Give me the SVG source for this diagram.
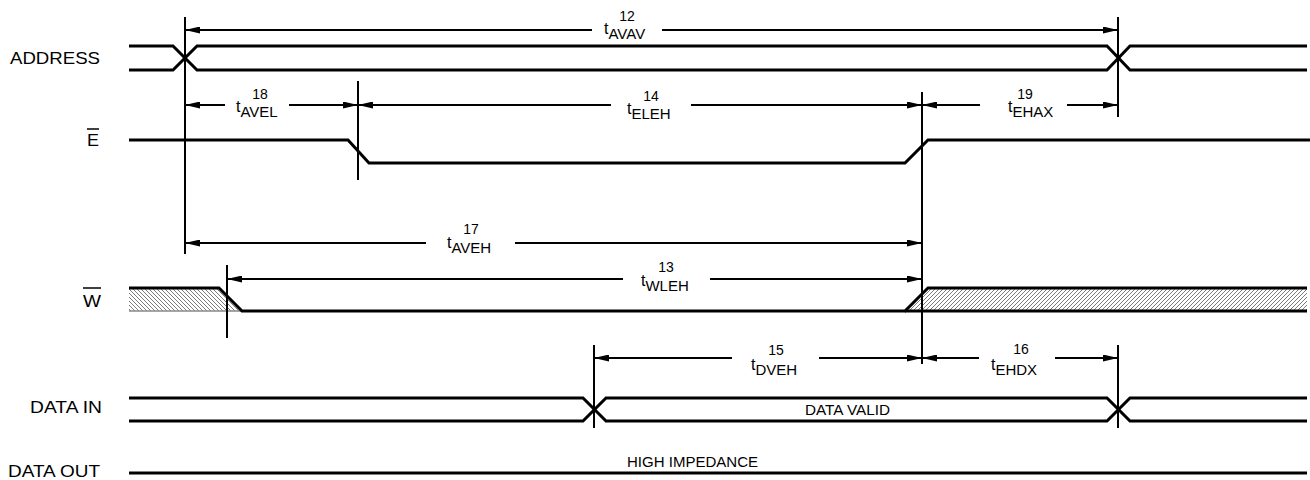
<svg xmlns="http://www.w3.org/2000/svg" width="1310" height="480" viewBox="0 0 1310 480">
<style>
.sig{fill:none;stroke:#000;stroke-width:3;stroke-linejoin:miter}
.ref{stroke:#000;stroke-width:2}
.arr{stroke:#000;stroke-width:2;marker-end:url(#ah)}
.lbl{font-family:"Liberation Sans",Arial,sans-serif;font-size:16.5px;fill:#000}
.t{font-family:"Liberation Sans",Arial,sans-serif;font-size:16px;fill:#000}
.sub{font-size:15px}
.sup{font-family:"Liberation Sans",Arial,sans-serif;font-size:14px;fill:#000;text-anchor:middle}
.small{font-family:"Liberation Sans",Arial,sans-serif;font-size:14px;fill:#000}
</style>
<defs>
<marker id="ah" markerUnits="userSpaceOnUse" markerWidth="15" markerHeight="7" refX="15" refY="3.5" orient="auto">
<path d="M0,0 L15,3.5 L0,7 z" fill="#000"/>
</marker>
<pattern id="hatchL" patternUnits="userSpaceOnUse" width="4" height="4">
<path d="M-1,-1 L5,5 M-1,3 L1,5 M3,-1 L5,1" stroke="#444" stroke-width="0.7"/>
</pattern>
<pattern id="hatchR" patternUnits="userSpaceOnUse" width="4" height="4">
<path d="M-1,5 L5,-1 M-1,1 L1,-1 M3,5 L5,3" stroke="#444" stroke-width="0.7"/>
</pattern>
</defs>
<rect width="1310" height="480" fill="#fff"/>

<g id="address">
<text class="lbl" x="10" y="64" textLength="90" lengthAdjust="spacingAndGlyphs">ADDRESS</text>
<path class="sig" stroke-width="2.5" d="M129,46 H173 L197,70 H1107 L1130,46 H1307"/>
<path class="sig" stroke-width="2.5" d="M129,70 H173 L197,46 H1107 L1130,70 H1307"/>
</g>

<g id="e">
<text class="lbl" x="87" y="146" textLength="12" lengthAdjust="spacingAndGlyphs">E</text>
<line x1="87" y1="129" x2="99" y2="129" stroke="#000" stroke-width="1.5"/>
<path class="sig" d="M129,140 H348 L369,163 H905 L928,140 H1310"/>
</g>

<g id="w">
<text class="lbl" x="83" y="307" textLength="18" lengthAdjust="spacingAndGlyphs">W</text>
<line x1="83" y1="288" x2="101" y2="288" stroke="#000" stroke-width="1.5"/>
<polygon points="129,288 219,288 242,311 129,311" fill="url(#hatchL)"/>
<polygon points="928,288 1307,288 1307,311 905,311" fill="url(#hatchR)"/>
<line x1="129" y1="311" x2="242" y2="311" stroke="#888" stroke-width="1.5"/>
<path class="sig" d="M129,288 H219 L242,311 H905 L928,288 H1307"/>
<line class="sig" x1="905" y1="311" x2="1307" y2="311"/>
</g>

<g id="data-in">
<text class="lbl" x="30" y="413" textLength="72" lengthAdjust="spacingAndGlyphs">DATA IN</text>
<path class="sig" stroke-width="2.5" d="M129,398 H583 L606,421 H1107 L1130,398 H1307"/>
<path class="sig" stroke-width="2.5" d="M129,421 H583 L606,398 H1107 L1130,421 H1307"/>
<text class="small" x="805" y="415" textLength="85" lengthAdjust="spacingAndGlyphs">DATA VALID</text>
</g>

<g id="data-out">
<text class="lbl" x="8" y="477" textLength="92" lengthAdjust="spacingAndGlyphs">DATA OUT</text>
<line class="sig" x1="129" y1="473" x2="1307" y2="473"/>
<text class="small" x="627" y="467" font-size="14.5" textLength="131" lengthAdjust="spacingAndGlyphs">HIGH IMPEDANCE</text>
</g>

<g id="connectors">
<line class="ref" x1="185" y1="17" x2="185" y2="254"/>
<line class="ref" x1="1118" y1="17" x2="1118" y2="117"/>
<line class="ref" x1="358" y1="81" x2="358" y2="180"/>
<line class="ref" x1="922" y1="92" x2="922" y2="364"/>
<line class="ref" x1="227" y1="265" x2="227" y2="338"/>
<line class="ref" x1="594" y1="345" x2="594" y2="428"/>
<line class="ref" x1="1118" y1="345" x2="1118" y2="428"/>

<line class="arr" x1="592" y1="30" x2="185" y2="30"/>
<line class="arr" x1="662" y1="30" x2="1118" y2="30"/>
<line class="arr" x1="225" y1="105" x2="185" y2="105"/>
<line class="arr" x1="289" y1="105" x2="358" y2="105"/>
<line class="arr" x1="611" y1="105" x2="358" y2="105"/>
<line class="arr" x1="691" y1="105" x2="922" y2="105"/>
<line class="arr" x1="980" y1="105" x2="922" y2="105"/>
<line class="arr" x1="1067" y1="105" x2="1118" y2="105"/>
<line class="arr" x1="426" y1="243" x2="185" y2="243"/>
<line class="arr" x1="515" y1="243" x2="922" y2="243"/>
<line class="arr" x1="623" y1="279" x2="227" y2="279"/>
<line class="arr" x1="710" y1="279" x2="922" y2="279"/>
<line class="arr" x1="732" y1="358" x2="594" y2="358"/>
<line class="arr" x1="819" y1="358" x2="922" y2="358"/>
<line class="arr" x1="979" y1="358" x2="922" y2="358"/>
<line class="arr" x1="1055" y1="358" x2="1118" y2="358"/>
</g>

<g id="timing-labels">
<text class="t" x="604" y="34">t<tspan class="sub" dy="5">AVAV</tspan></text>
<text class="sup" x="627" y="21">12</text>
<text class="t" x="236" y="112">t<tspan class="sub" dy="5">AVEL</tspan></text>
<text class="sup" x="260" y="99">18</text>
<text class="t" x="627" y="114">t<tspan class="sub" dy="5">ELEH</tspan></text>
<text class="sup" x="651" y="101">14</text>
<text class="t" x="1008" y="112">t<tspan class="sub" dy="5">EHAX</tspan></text>
<text class="sup" x="1025" y="99">19</text>
<text class="t" x="447" y="248">t<tspan class="sub" dy="5">AVEH</tspan></text>
<text class="sup" x="471" y="234">17</text>
<text class="t" x="641" y="286">t<tspan class="sub" dy="5">WLEH</tspan></text>
<text class="sup" x="666" y="272">13</text>
<text class="t" x="751" y="370">t<tspan class="sub" dy="5">DVEH</tspan></text>
<text class="sup" x="776" y="355">15</text>
<text class="t" x="991" y="370">t<tspan class="sub" dy="5">EHDX</tspan></text>
<text class="sup" x="1021" y="354">16</text>
</g>
</svg>
